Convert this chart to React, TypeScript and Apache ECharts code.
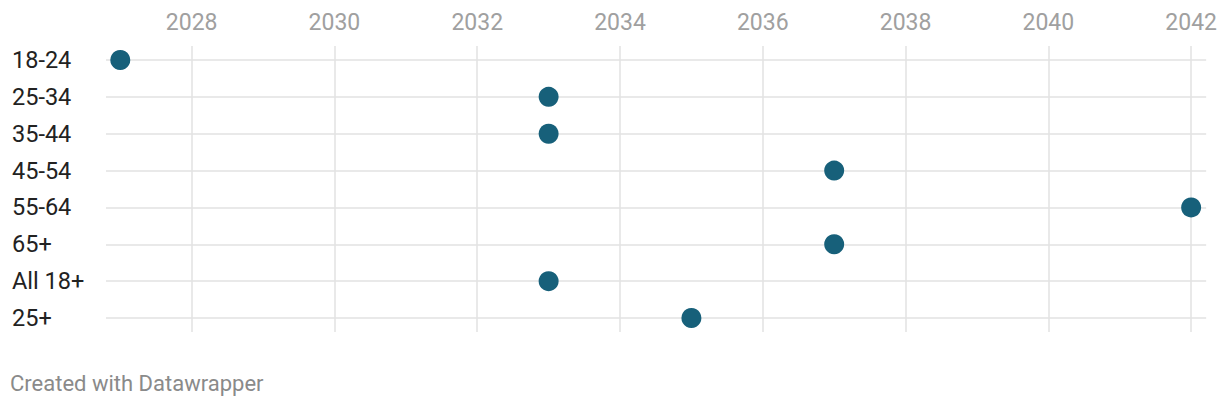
import React, { useEffect, useRef } from "react";
import * as echarts from "echarts";

const categories = ["18-24", "25-34", "35-44", "45-54", "55-64", "65+", "All 18+", "25+"];
const years = [2027, 2033, 2033, 2037, 2042, 2037, 2033, 2035];
const xTicks = [2028, 2030, 2032, 2034, 2036, 2038, 2040, 2042];

export default function App() {
  const ref = useRef<HTMLDivElement>(null);
  useEffect(() => {
    if (!ref.current) return;
    const chart = echarts.init(ref.current, null, { renderer: "svg" });
    const gridColor = "#e2e2e2";
    chart.setOption({
      animation: false,
      textStyle: { fontFamily: "Roboto" },
      grid: { left: 106, right: 11, top: 46, bottom: 78, containLabel: false },
      xAxis: {
        type: "value",
        position: "top",
        min: 2026.8,
        max: 2042.21,
        axisLine: { show: false },
        axisTick: { show: false },
        splitLine: { show: false },
        axisLabel: {
          customValues: xTicks,
          formatter: (v: number) => String(Math.round(v)),
          color: "#a0a0a0",
          fontSize: 23,
          margin: 12,
          fontFamily: "Roboto",
        },
      },
      yAxis: {
        type: "value",
        inverse: true,
        min: -0.38,
        max: 7.38,
        axisLine: { show: false },
        axisTick: { show: false },
        splitLine: { show: false },
        axisLabel: {
          customValues: categories.map((_, i) => i),
          formatter: (v: number) => categories[Math.round(v)] ?? "",
          color: "#222222",
          fontSize: 23.5,
          align: "left",
          margin: 94,
          fontFamily: "Roboto",
        },
      },
      series: [
        {
          type: "scatter",
          symbolSize: 20,
          itemStyle: { color: "#17607a", opacity: 1 },
          z: 5,
          data: years.map((y, i) => [y, i]),
          markLine: {
            silent: true,
            symbol: "none",
            label: { show: false },
            lineStyle: { color: gridColor, width: 1.5, type: "solid" },
            z: 1,
            data: [
              ...categories.map((_, i) => ({ yAxis: i })),
              ...xTicks.map((t) => ({ xAxis: t })),
            ],
          },
        },
      ],
      graphic: [
        {
          type: "text",
          left: 10,
          top: 372,
          style: {
            text: "Created with Datawrapper",
            fill: "#8a8a8a",
            fontSize: 22,
            fontFamily: "Roboto",
          },
        },
      ],
    });
    return () => chart.dispose();
  }, []);
  return <div ref={ref} style={{ width: 1220, height: 410, position: "absolute", left: 0, top: 0 }} />;
}
